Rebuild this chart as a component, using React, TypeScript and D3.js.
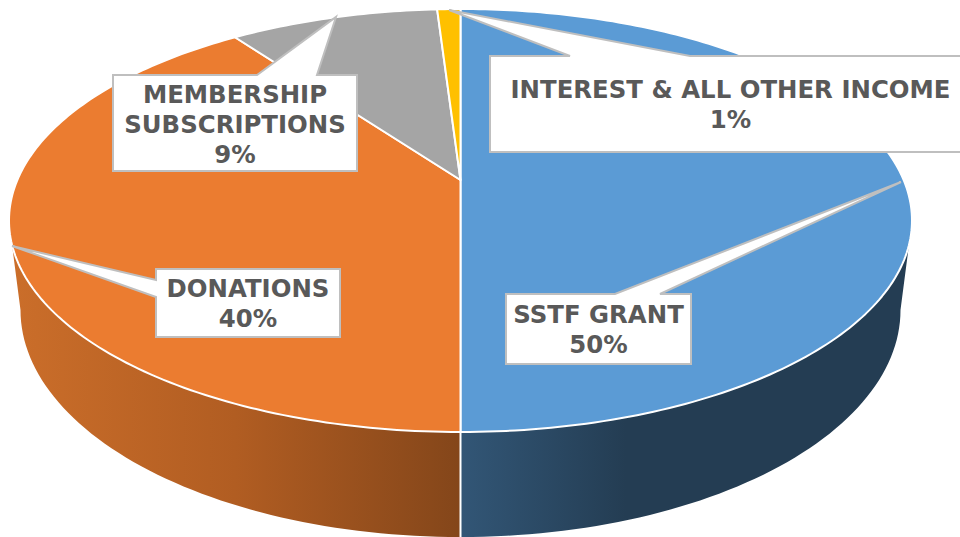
import React from "react";
import * as d3 from "d3";

const categories = ["SSTF GRANT", "DONATIONS", "MEMBERSHIP SUBSCRIPTIONS", "INTEREST & ALL OTHER INCOME"];
const shares = [50, 40, 9, 1];
const percentLabels = ["50%", "40%", "9%", "1%"];
const topColors = ["#5B9BD5", "#EB7C30", "#A5A5A5", "#FFC000"];
const labelLines = [["SSTF GRANT"], ["DONATIONS"], ["MEMBERSHIP", "SUBSCRIPTIONS"], ["INTEREST & ALL OTHER INCOME"]];

// Layout of the callouts: box, pointer tip, pointer base along one box edge
const callouts = [
  { box: [506, 294, 691, 364], tip: [901, 182], base: [615, 660], edge: "top", cx: 598.5, y0: 323 },
  { box: [156, 269, 340, 337], tip: [12, 246], base: [280, 297], edge: "left", cx: 248, y0: 297 },
  { box: [113, 75, 357, 171], tip: [336, 17], base: [257, 317], edge: "top", cx: 235, y0: 103 },
  { box: [490, 56, 964, 152], tip: [449, 10], base: [570, 690], edge: "top", cx: 730.5, y0: 98 },
];

const W = 960, H = 537;
const CX = 460.5, APEX_Y = 180, FAR = 171, NEAR = 252, RX = 451.5;
const persp = (NEAR - FAR) / (NEAR + FAR);
const depthA = FAR * (1 + persp);
const widthD = RX * Math.sqrt(1 - persp * persp);

// Projects an angle on the pie (clockwise from top) on to the tilted disc
const project = (a: number): [number, number] => {
  const u = Math.sin(a), v = Math.cos(a), w = 1 + persp * v;
  return [CX + (widthD * u) / w, APEX_Y - (depthA * v) / w];
};
const LOW_RX = 440, LOW_CY = 310, LOW_RY = 227;
const low = (t: number): [number, number] => [CX + LOW_RX * Math.sin(t), LOW_CY + LOW_RY * Math.cos(t)];

const line = d3.line<[number, number]>();
const pie = d3.pie<number>().sort(null).startAngle(0).endAngle(2 * Math.PI);
const arcs = pie(shares);

const slicePath = (a0: number, a1: number) => {
  const n = Math.max(6, Math.ceil((a1 - a0) * 60));
  const pts = d3.range(n + 1).map((i) => project(a0 + ((a1 - a0) * i) / n));
  return line([[CX, APEX_Y], ...pts])! + "Z";
};

const TANGENT = (107.5 * Math.PI) / 180;
const sidePath = (sign: number) => {
  const top = d3.range(61).map((i) => project(sign * (Math.PI - ((Math.PI - TANGENT) * i) / 60)));
  const bottom = d3.range(61).map((i) => low(sign * ((Math.PI / 2) * (1 - i / 60))));
  return line([...top, ...bottom])! + "Z";
};

const calloutPath = (c: typeof callouts[number]) => {
  const [x0, y0, x1, y1] = c.box;
  const pts: [number, number][] =
    c.edge === "top"
      ? [[x0, y0], [c.base[0], y0], c.tip as [number, number], [c.base[1], y0], [x1, y0], [x1, y1], [x0, y1]]
      : [[x0, y0], [x1, y0], [x1, y1], [x0, y1], [x0, c.base[1]], c.tip as [number, number], [x0, c.base[0]]];
  return line(pts)! + "Z";
};

const LINE_H = 30;

export default function App() {
  return (
    <svg width={W} height={H} viewBox={`0 0 ${W} ${H}`} style={{ position: "absolute", left: 0, top: 0, background: "#fff" }}>
      <defs>
        <linearGradient id="sideBlue" gradientUnits="userSpaceOnUse" x1={CX} x2={CX + 460} y1={0} y2={0}>
          <stop offset="0" stopColor="#325676" />
          <stop offset="0.36" stopColor="#243D53" />
          <stop offset="1" stopColor="#243D53" />
        </linearGradient>
        <linearGradient id="sideOrange" gradientUnits="userSpaceOnUse" x1={10} x2={CX} y1={0} y2={0}>
          <stop offset="0" stopColor="#CB6E2A" />
          <stop offset="0.5" stopColor="#B15D22" />
          <stop offset="1" stopColor="#84461A" />
        </linearGradient>
      </defs>
      <path d={sidePath(1)} fill="url(#sideBlue)" />
      <path d={sidePath(-1)} fill="url(#sideOrange)" />
      <line x1={CX} x2={CX} y1={project(Math.PI)[1]} y2={low(0)[1]} stroke="#fff" strokeWidth={2} />
      {arcs.map((d, i) => (
        <path key={categories[i]} d={slicePath(d.startAngle, d.endAngle)} fill={topColors[i]} stroke="#fff" strokeWidth={2} strokeLinejoin="round" />
      ))}
      {callouts.map((c, i) => (
        <g key={categories[i]}>
          <path d={calloutPath(c)} fill="#fff" stroke="#BFBFBF" strokeWidth={2} />
          <text textAnchor="middle" fontFamily="'DejaVu Sans', Verdana, sans-serif" fontWeight="bold" fontSize={24.4} fill="#595959">
            {[...labelLines[i], percentLabels[i]].map((t, j) => (
              <tspan key={t} x={c.cx} y={c.y0 + j * LINE_H}>{t}</tspan>
            ))}
          </text>
        </g>
      ))}
    </svg>
  );
}
